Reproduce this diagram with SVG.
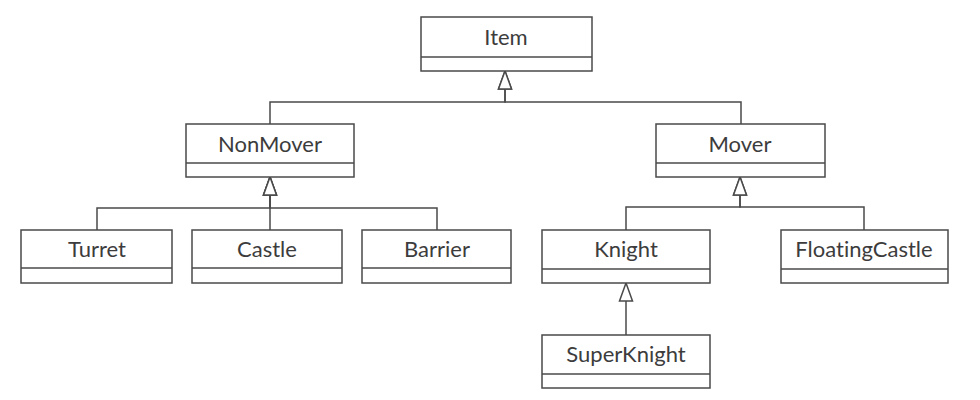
<svg xmlns="http://www.w3.org/2000/svg" width="980" height="400" viewBox="0 0 980 400">
<defs>
<style>
.box{fill:#fff;stroke:#4a4a4a;stroke-width:1.5}
.div{stroke:#4a4a4a;stroke-width:1.5}
.lbl{font-family:Lato,"Noto Sans",sans-serif;font-size:22px;fill:#3c3c3c;text-anchor:middle;font-variant-ligatures:none;font-feature-settings:"liga" 0}
.conn{fill:none;stroke:#4a4a4a;stroke-width:1.5;marker-end:url(#gen)}
</style>
<marker id="gen" markerUnits="userSpaceOnUse" markerWidth="20" markerHeight="15" refX="18.5" refY="7" orient="auto" overflow="visible">
<path d="M0.5,0.5 L18.5,7 L0.5,13.5 Z" fill="#fff" stroke="#4a4a4a" stroke-width="1.5" stroke-linejoin="miter"/>
</marker>
</defs>
<rect width="980" height="400" fill="#fff"/>
<g id="connectors">
<path class="conn" d="M270,124 V102 H505 V71"/>
<path class="conn" d="M741,124 V102 H505 V71"/>
<path class="conn" d="M97,230 V208 H270 V177"/>
<path class="conn" d="M270,230 V177"/>
<path class="conn" d="M437,230 V208 H270 V177"/>
<path class="conn" d="M626,230 V207 H740 V177"/>
<path class="conn" d="M864,230 V207 H740 V177"/>
<path class="conn" d="M626,335 V283"/>
</g>
<g id="Item">
<rect class="box" x="421" y="17" width="171" height="54"/>
<line class="div" x1="421" y1="57" x2="592" y2="57"/>
<text class="lbl" x="506" y="45">Item</text>
</g>
<g id="NonMover">
<rect class="box" x="186" y="124" width="168" height="53"/>
<line class="div" x1="186" y1="163" x2="354" y2="163"/>
<text class="lbl" x="270" y="152">NonMover</text>
</g>
<g id="Mover">
<rect class="box" x="656" y="124" width="169" height="53"/>
<line class="div" x1="656" y1="163" x2="825" y2="163"/>
<text class="lbl" x="740" y="152">Mover</text>
</g>
<g id="Turret">
<rect class="box" x="21" y="230" width="151" height="53"/>
<line class="div" x1="21" y1="268" x2="172" y2="268"/>
<text class="lbl" x="97" y="257">Turret</text>
</g>
<g id="Castle">
<rect class="box" x="192" y="230" width="150" height="53"/>
<line class="div" x1="192" y1="268" x2="342" y2="268"/>
<text class="lbl" x="267" y="257">Castle</text>
</g>
<g id="Barrier">
<rect class="box" x="362" y="230" width="149" height="53"/>
<line class="div" x1="362" y1="268" x2="511" y2="268"/>
<text class="lbl" x="437" y="257">Barrier</text>
</g>
<g id="Knight">
<rect class="box" x="542" y="230" width="168" height="53"/>
<line class="div" x1="542" y1="269" x2="710" y2="269"/>
<text class="lbl" x="626" y="257">Knight</text>
</g>
<g id="FloatingCastle">
<rect class="box" x="781" y="230" width="167" height="53"/>
<line class="div" x1="781" y1="269" x2="948" y2="269"/>
<text class="lbl" x="864" y="257">FloatingCastle</text>
</g>
<g id="SuperKnight">
<rect class="box" x="542" y="335" width="168" height="53"/>
<line class="div" x1="542" y1="374" x2="710" y2="374"/>
<text class="lbl" x="626" y="362">SuperKnight</text>
</g>
</svg>
